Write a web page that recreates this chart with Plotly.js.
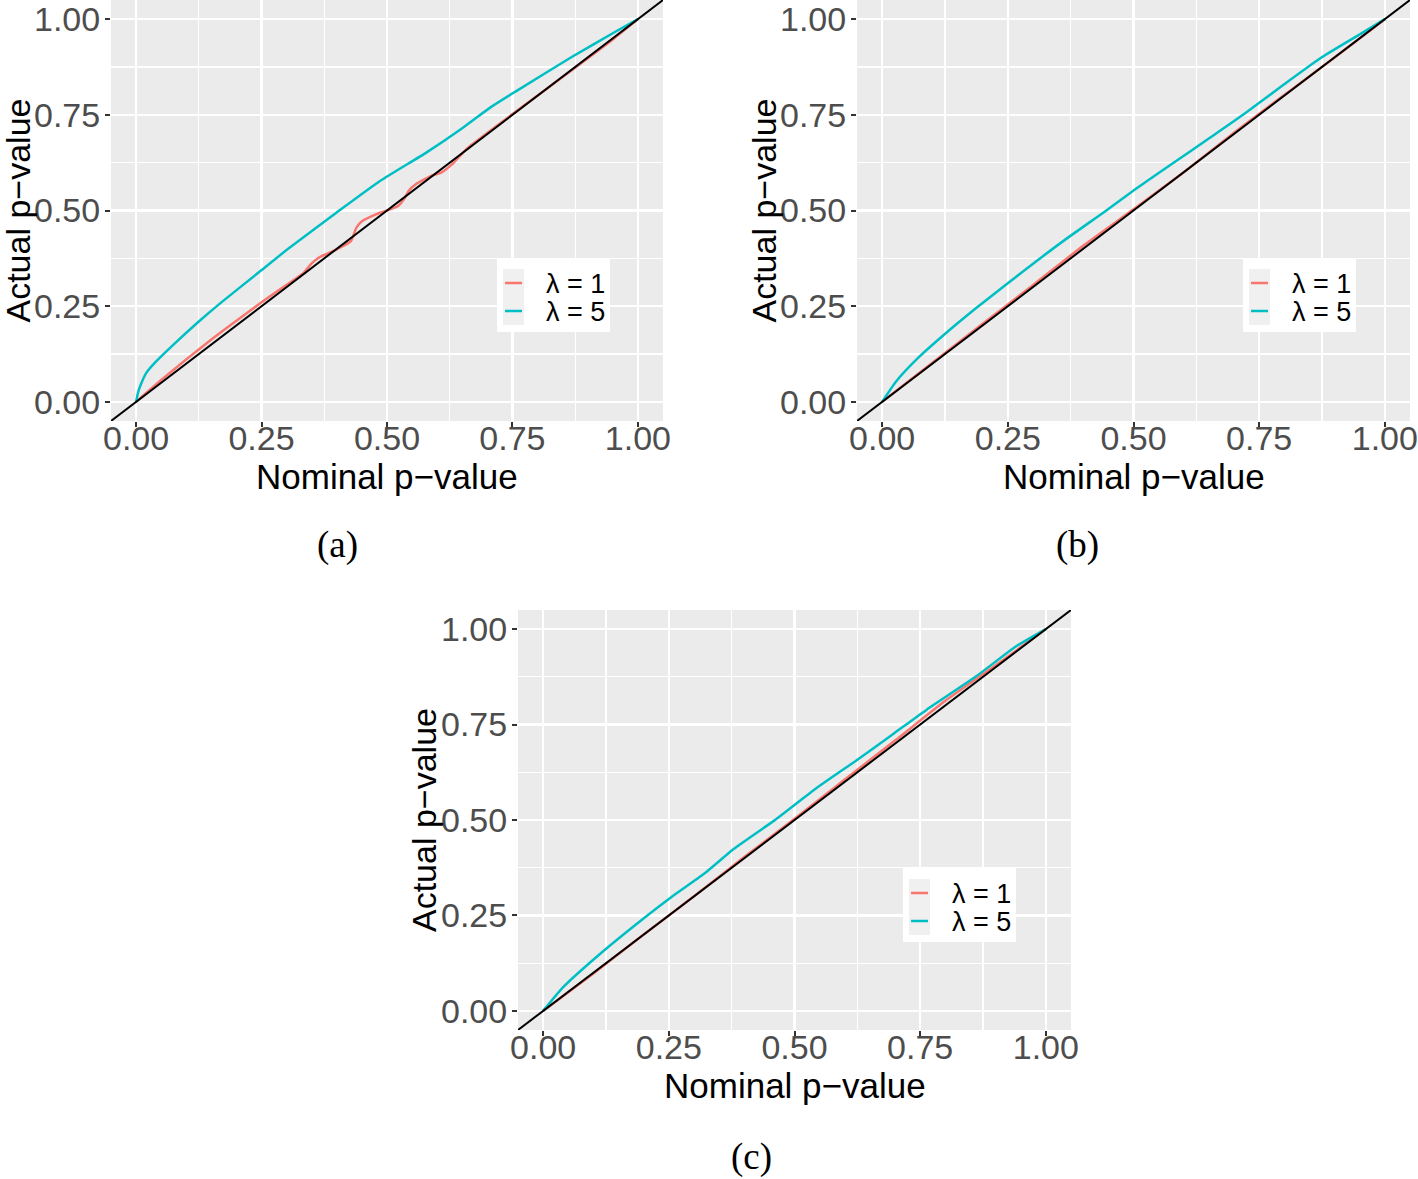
<!DOCTYPE html>
<html>
<head>
<meta charset="utf-8">
<script src="https://cdn.plot.ly/plotly-3.0.1.min.js"></script>
<style>html,body{margin:0;padding:0;background:#fff;}#chart{width:1418px;height:1179px;}</style>
</head>
<body>
<div id="chart"></div>
<script>
// ---- data ----
const seriesNames = ["λ = 1", "λ = 5"];
const panelLabels = ["(a)", "(b)", "(c)"];
const xTitle = "Nominal p−value";
const yTitle = "Actual p−value";
const tickVals = [0, 0.25, 0.5, 0.75, 1];
const tickText = ["0.00", "0.25", "0.50", "0.75", "1.00"];
const minorVals = [0.125, 0.375, 0.625, 0.875];
const refX = [-0.05, 1.05];
const refY = [-0.05, 1.05];

const a1x = [0, 0.05, 0.1, 0.15, 0.2, 0.25, 0.3, 0.334, 0.348, 0.363, 0.399, 0.428, 0.439, 0.45, 0.478, 0.5, 0.522, 0.536, 0.543, 0.558, 0.587, 0.608, 0.63, 0.652, 0.666, 0.75, 0.85, 0.95, 1];
const a1y = [0, 0.057, 0.111, 0.163, 0.212, 0.26, 0.306, 0.337, 0.359, 0.376, 0.398, 0.42, 0.455, 0.472, 0.49, 0.5, 0.512, 0.534, 0.551, 0.569, 0.59, 0.599, 0.621, 0.652, 0.669, 0.752, 0.849, 0.947, 1];
const a5x = [0, 0.004, 0.009, 0.02, 0.038, 0.074, 0.125, 0.168, 0.247, 0.305, 0.399, 0.486, 0.579, 0.652, 0.709, 0.760, 0.868, 0.955, 1];
const a5y = [0, 0.025, 0.044, 0.075, 0.103, 0.149, 0.21, 0.258, 0.341, 0.402, 0.494, 0.577, 0.652, 0.717, 0.772, 0.814, 0.901, 0.967, 1];

const b1x = [0, 0.1, 0.2, 0.3, 0.4, 0.5, 0.6, 0.7, 0.8, 0.9, 1];
const b1y = [0, 0.102, 0.204, 0.305, 0.408, 0.503, 0.6, 0.703, 0.802, 0.9, 1];
const b5x = [0, 0.027, 0.071, 0.13, 0.189, 0.248, 0.358, 0.446, 0.505, 0.579, 0.652, 0.72, 0.799, 0.873, 0.946, 1];
const b5y = [0, 0.052, 0.114, 0.183, 0.247, 0.308, 0.418, 0.5, 0.557, 0.624, 0.69, 0.752, 0.829, 0.899, 0.957, 1];

const c1x = [0, 0.1, 0.2, 0.3, 0.4, 0.5, 0.6, 0.7, 0.8, 0.9, 1];
const c1y = [0, 0.098, 0.2, 0.3, 0.403, 0.503, 0.606, 0.708, 0.812, 0.905, 1];
const c5x = [0, 0.039, 0.113, 0.194, 0.254, 0.320, 0.379, 0.460, 0.542, 0.623, 0.697, 0.763, 0.860, 0.941, 1];
const c5y = [0, 0.061, 0.149, 0.236, 0.297, 0.359, 0.424, 0.499, 0.582, 0.656, 0.726, 0.789, 0.875, 0.955, 1];

// ---- build ----
const RED = "#F8766D", CYAN = "#00BFC4";
const W = 1418, H = 1179;
const px = v => v / W, py = v => 1 - v / H;
const SANS = "Liberation Sans, Arial, sans-serif";
const SERIF = "Liberation Serif, Times New Roman, serif";

// panel geometry in pixels: left, right, top, bottom; legend top-left; caption position
const panels = [
  {ax: "", s1: [a1x, a1y], s5: [a5x, a5y], l: 111, r: 663, t: 0, b: 421, legL: 497, legT: 258, capX: 337, capY: 545},
  {ax: "2", s1: [b1x, b1y], s5: [b5x, b5y], l: 857, r: 1410, t: 0, b: 421, legL: 1243, legT: 258, capX: 1077, capY: 545},
  {ax: "3", s1: [c1x, c1y], s5: [c5x, c5y], l: 518, r: 1071, t: 610, b: 1030, legL: 903, legT: 868, capX: 752, capY: 1157}
];

const traces = [];
const layout = {
  width: W, height: H, margin: {l: 0, r: 0, t: 0, b: 0}, paper_bgcolor: "#fff", plot_bgcolor: "#EBEBEB", showlegend: false,
  shapes: [], annotations: []
};
const tickFont = {family: SANS, size: 34, color: "#4D4D4D"};
const titleFont = {family: SANS, size: 35, color: "#000"};
const yTitleFont = {family: SANS, size: 34, color: "#000"};

panels.forEach((p, i) => {
  const xa = "x" + p.ax, ya = "y" + p.ax;
  traces.push({x: p.s1[0], y: p.s1[1], xaxis: xa, yaxis: ya, mode: "lines", line: {color: RED, width: 2.5, shape: "spline", smoothing: 0.5}, name: seriesNames[0]});
  traces.push({x: p.s5[0], y: p.s5[1], xaxis: xa, yaxis: ya, mode: "lines", line: {color: CYAN, width: 2.5, shape: "spline", smoothing: 0.5}, name: seriesNames[1]});
  traces.push({x: refX, y: refY, xaxis: xa, yaxis: ya, mode: "lines", line: {color: "#000", width: 2}, hoverinfo: "skip"});

  const common = {range: [-0.05, 1.05], tickvals: tickVals, ticktext: tickText, ticks: "outside", ticklen: 5, tickwidth: 2, tickcolor: "#333",
    tickfont: tickFont, showgrid: true, gridcolor: "#fff", gridwidth: 2.2, zeroline: false, showline: false, fixedrange: true,
    minor: {tickvals: minorVals, showgrid: true, gridcolor: "#fff", gridwidth: 1.1, ticks: ""}};
  layout["xaxis" + p.ax] = Object.assign({}, common, {domain: [px(p.l), px(p.r)], anchor: ya, ticklabelstandoff: -18});
  layout["yaxis" + p.ax] = Object.assign({}, common, {domain: [py(p.b), py(p.t)], anchor: xa, ticklabelstandoff: -2});

  const cx = (p.l + p.r) / 2, cy = (p.t + p.b) / 2;
  layout.annotations.push({text: xTitle, xref: "paper", yref: "paper", x: px(cx), y: py(p.b + 55), xanchor: "center", yanchor: "middle", showarrow: false, font: titleFont});
  layout.annotations.push({text: yTitle, xref: "paper", yref: "paper", x: px(p.l - 94), y: py(cy), xanchor: "center", yanchor: "middle", textangle: -90, showarrow: false, font: yTitleFont});
  layout.annotations.push({text: panelLabels[i], xref: "paper", yref: "paper", x: px(p.capX), y: py(p.capY), xanchor: "center", yanchor: "middle", showarrow: false, font: {family: SERIF, size: 37, color: "#000"}});

  // legend (ggplot style: white box, grey key, short coloured key lines)
  const L = p.legL, T = p.legT;
  const rect = (x0, x1, y0, y1, fill) => ({type: "rect", xref: "paper", yref: "paper", x0: px(x0), x1: px(x1), y0: py(y1), y1: py(y0), fillcolor: fill, line: {width: 0}, layer: "above"});
  layout.shapes.push(rect(L, L + 113, T, T + 74, "#FFFFFF"));
  layout.shapes.push(rect(L + 6, L + 27, T + 11, T + 67, "#F0F0F0"));
  [RED, CYAN].forEach((c, k) => {
    const yy = T + 25 + k * 28;
    layout.shapes.push({type: "line", xref: "paper", yref: "paper", x0: px(L + 8), x1: px(L + 25), y0: py(yy), y1: py(yy), line: {color: c, width: 2.5}, layer: "above"});
    layout.annotations.push({text: seriesNames[k], xref: "paper", yref: "paper", x: px(L + 47), y: py(yy + 1), xanchor: "left", yanchor: "middle", showarrow: false, font: {family: SANS, size: 27, color: "#000"}});
  });
});

Plotly.newPlot("chart", traces, layout, {displayModeBar: false, staticPlot: true});
</script>
</body>
</html>
